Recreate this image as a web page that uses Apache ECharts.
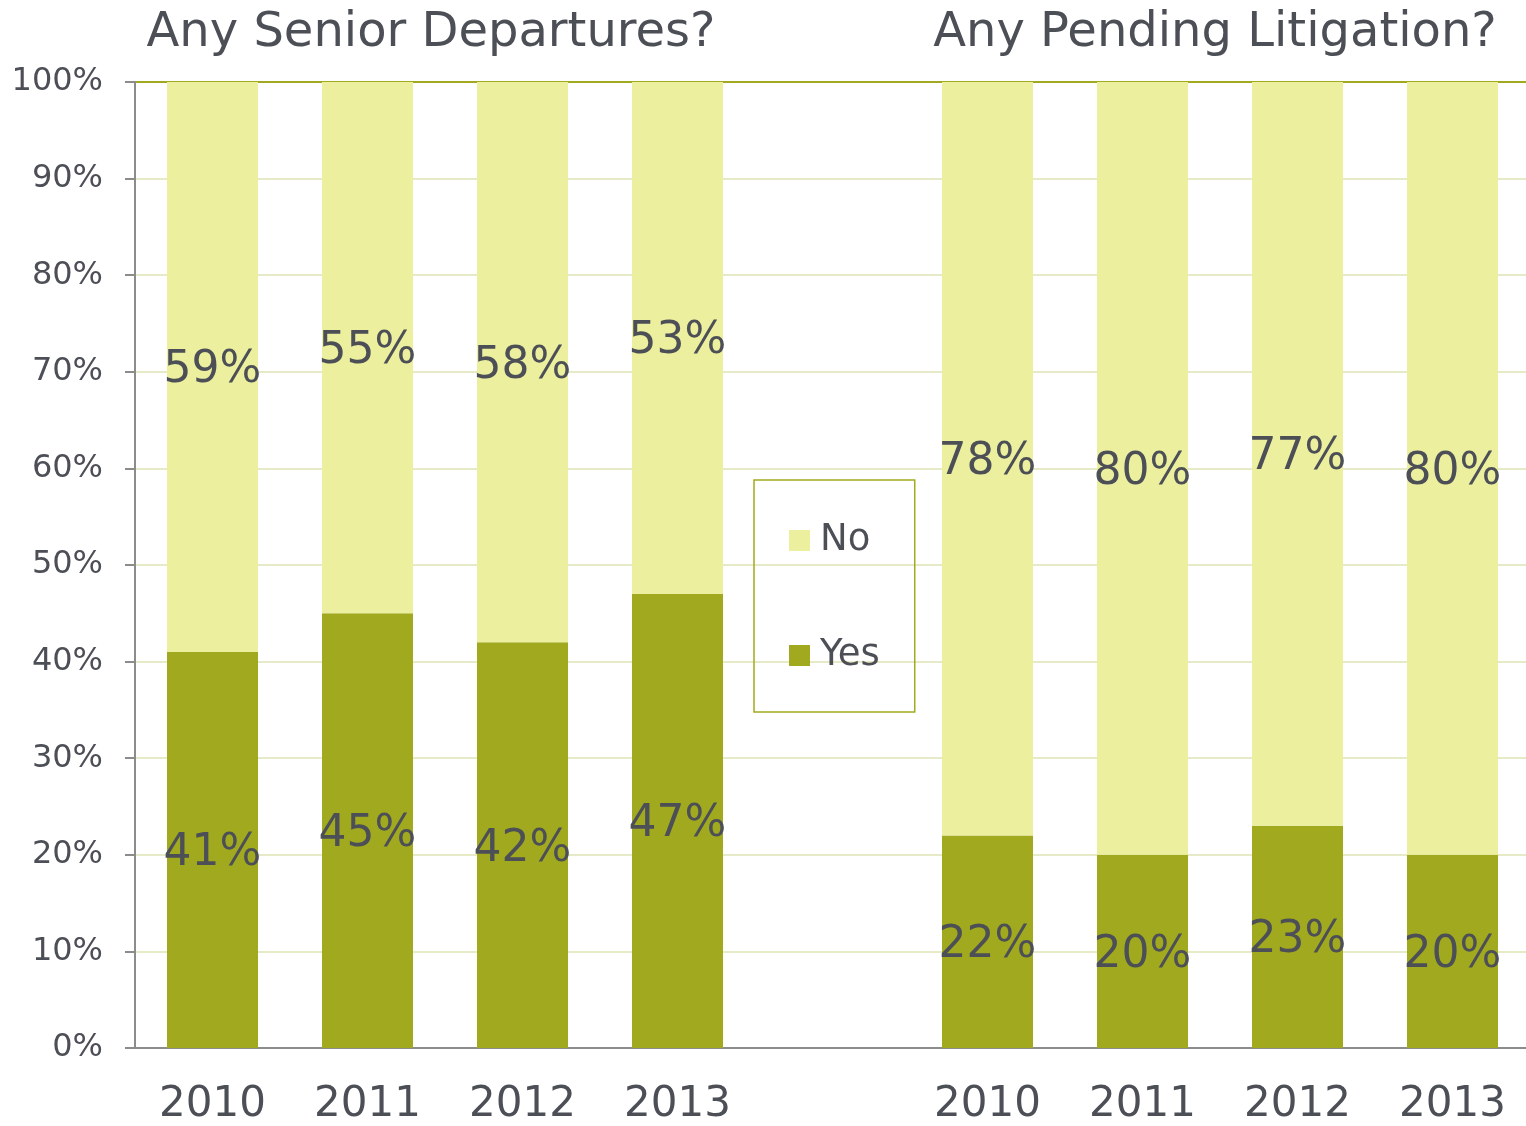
<!DOCTYPE html>
<html>
<head>
<meta charset="utf-8">
<script src="https://cdn.jsdelivr.net/npm/echarts@6/dist/echarts.min.js"></script>
<style>
html,body{margin:0;padding:0;background:#fff;}
#chart{width:1526px;height:1126px;}
</style>
</head>
<body>
<div id="chart"></div>
<script>
const categories = ['2010','2011','2012','2013','','2010','2011','2012','2013'];
const yesValues = [41, 45, 42, 47, '-', 22, 20, 23, 20];
const noValues  = [59, 55, 58, 53, '-', 78, 80, 77, 80];
const titles = ['Any Senior Departures?', 'Any Pending Litigation?'];
const yTicks = [0,10,20,30,40,50,60,70,80,90,100];

const textColor = '#4d4f57';
const font = 'DejaVu Sans, Verdana, sans-serif';
const splitColors = yTicks.map(v => v === 100 ? '#a1aa1e' : '#e6eac6');

const chart = echarts.init(document.getElementById('chart'));
chart.setOption({
  animation: false,
  textStyle: { fontFamily: font },
  title: [
    { text: titles[0], left: 426, top: 5, textAlign: 'center',
      textStyle: { fontSize: 48, fontWeight: 'normal', color: textColor, fontFamily: font } },
    { text: titles[1], left: 1210, top: 5, textAlign: 'center',
      textStyle: { fontSize: 48, fontWeight: 'normal', color: textColor, fontFamily: font } }
  ],
  legend: {
    orient: 'vertical',
    left: 754, top: 480,
    data: ['No', 'Yes'],
    itemWidth: 21, itemHeight: 21, itemGap: 78,
    padding: [42, 35, 38, 35],
    borderColor: '#a1aa1e', borderWidth: 1.5,
    textStyle: { fontSize: 37, color: textColor, fontFamily: font, padding: [0, 0, 0, 5] },
    icon: 'rect'
  },
  grid: { left: 135, top: 82, width: 1395, bottom: 78, containLabel: false, outerBoundsMode: 'none' },
  xAxis: {
    type: 'category',
    data: categories,
    axisTick: { show: false },
    axisLine: { lineStyle: { color: '#8c8c8c', width: 2 } },
    axisLabel: { fontSize: 42, color: textColor, margin: 36, fontFamily: font }
  },
  yAxis: {
    type: 'value',
    min: 0, max: 100, interval: 10,
    axisLine: { show: true, lineStyle: { color: '#8c8c8c', width: 2 } },
    axisTick: { show: true, length: 10, lineStyle: { color: '#8c8c8c', width: 2 } },
    axisLabel: { formatter: '{value}%', fontSize: 32, color: textColor, margin: 32, fontFamily: font },
    splitLine: { show: true, lineStyle: { color: splitColors, width: 2 } }
  },
  series: [
    {
      name: 'Yes', type: 'bar', stack: 'total', barWidth: 91,
      data: yesValues,
      itemStyle: { color: '#a1aa1e' },
      label: { show: true, position: 'inside', formatter: '{c}%', fontSize: 44, color: textColor, fontFamily: font, offset: [0, 4] }
    },
    {
      name: 'No', type: 'bar', stack: 'total', barWidth: 91,
      data: noValues,
      itemStyle: { color: '#ebef9e' },
      label: { show: true, position: 'inside', formatter: '{c}%', fontSize: 44, color: textColor, fontFamily: font, offset: [0, 4] }
    }
  ]
});
</script>
</body>
</html>
